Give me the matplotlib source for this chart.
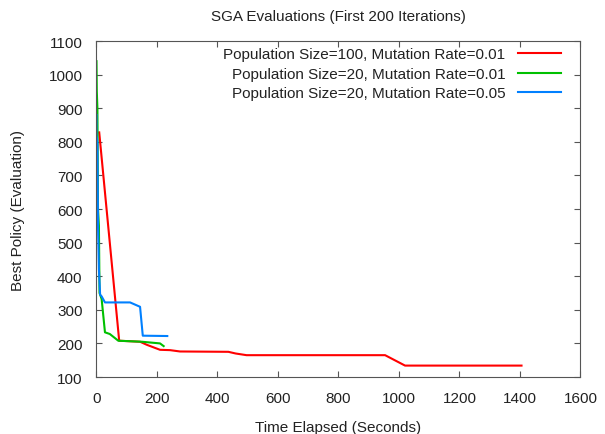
import matplotlib
matplotlib.use('Agg')
import matplotlib.pyplot as plt

plt.rcParams['font.family'] = ['Liberation Sans', 'DejaVu Sans']

# data
red_x = [9, 75, 144, 166, 210, 243, 276, 436, 460, 496, 954, 1020, 1405]
red_y = [828, 208, 205, 196, 181, 180, 176, 175, 170, 165, 165, 134, 134]

green_x = [0, 1, 3, 5, 8, 10, 17, 28, 44, 72, 150, 210, 222]
green_y = [1040, 950, 900, 600, 550, 350, 332, 233, 228, 208, 205, 200, 192]

blue_x = [0, 0, 3, 5, 8, 12, 17, 28, 111, 144, 153, 234]
blue_y = [880, 820, 800, 550, 420, 345, 340, 322, 322, 309, 223, 222]

labels = ['Population Size=100, Mutation Rate=0.01',
          'Population Size=20, Mutation Rate=0.01',
          'Population Size=20, Mutation Rate=0.05']

fig = plt.figure(figsize=(6.05, 4.35), dpi=100)
ax = fig.add_axes([0.1595, 0.131, 0.8, 0.7724])

ax.plot(red_x, red_y, color='#ff0000', lw=1.5, label=labels[0])
ax.plot(green_x, green_y, color='#00c000', lw=1.5, label=labels[1])
ax.plot(blue_x, blue_y, color='#0080ff', lw=1.5, label=labels[2])

ax.set_xlim(0, 1600)
ax.set_ylim(100, 1100)
ax.set_xticks(range(0, 1601, 200))
ax.set_yticks(range(100, 1101, 100))
ax.tick_params(direction='in', top=True, right=True, length=4, labelsize=11,
               color='#555555', pad=10, labelcolor='#222222')
for s in ax.spines.values():
    s.set_color('#555555')

ax.set_title('SGA Evaluations (First 200 Iterations)', fontsize=11, pad=15, color='#222222')
ax.set_xlabel('Time Elapsed (Seconds)', fontsize=11, labelpad=11, color='#222222')
ax.set_ylabel('Best Policy (Evaluation)', fontsize=11, labelpad=17, color='#222222')

leg = ax.legend(loc='upper right', bbox_to_anchor=(0.9597, 0.981), frameon=False,
                markerfirst=False, fontsize=11, handlelength=2.8, handletextpad=0.85,
                labelspacing=0.36, borderaxespad=0, borderpad=0)
for t in leg.get_texts():
    t.set_color('#222222')

fig.savefig('out.png', dpi=100)
